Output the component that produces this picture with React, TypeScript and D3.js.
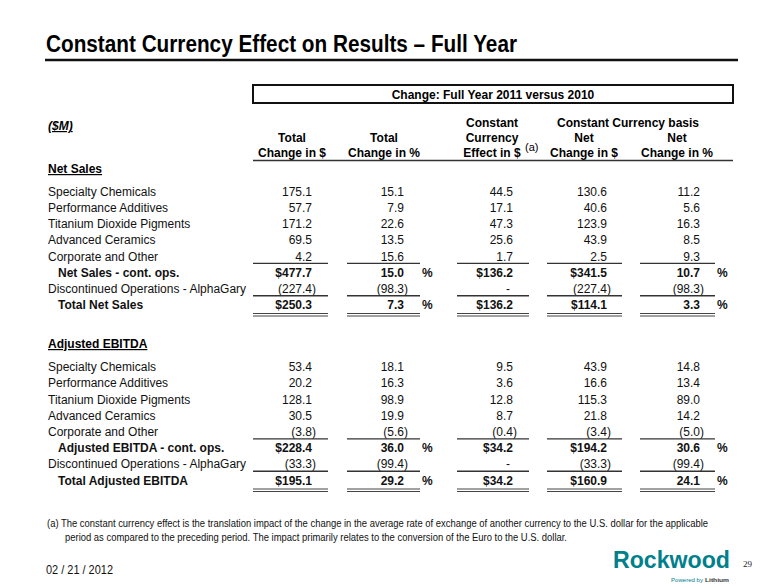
import React from "react";
import * as d3 from "d3";

// ---------- DATA ----------
const segments = [
  "Specialty Chemicals",
  "Performance Additives",
  "Titanium Dioxide Pigments",
  "Advanced Ceramics",
  "Corporate and Other",
];

// Net Sales (columns: Total Change $, Total Change %, CC Effect $, CC Net Change $, CC Net Change %)
const nsTotalChange = [175.1, 57.7, 171.2, 69.5, 4.2];
const nsTotalPct = [15.1, 7.9, 22.6, 13.5, 15.6];
const nsFxEffect = [44.5, 17.1, 47.3, 25.6, 1.7];
const nsCcChange = [130.6, 40.6, 123.9, 43.9, 2.5];
const nsCcPct = [11.2, 5.6, 16.3, 8.5, 9.3];
const nsContOps = [477.7, 15.0, 136.2, 341.5, 10.7];
const nsDiscontinued = [-227.4, -98.3, null, -227.4, -98.3];
const nsTotal = [250.3, 7.3, 136.2, 114.1, 3.3];

// Adjusted EBITDA
const ebTotalChange = [53.4, 20.2, 128.1, 30.5, -3.8];
const ebTotalPct = [18.1, 16.3, 98.9, 19.9, -5.6];
const ebFxEffect = [9.5, 3.6, 12.8, 8.7, -0.4];
const ebCcChange = [43.9, 16.6, 115.3, 21.8, -3.4];
const ebCcPct = [14.8, 13.4, 89.0, 14.2, -5.0];
const ebContOps = [228.4, 36.0, 34.2, 194.2, 30.6];
const ebDiscontinued = [-33.3, -99.4, null, -33.3, -99.4];
const ebTotal = [195.1, 29.2, 34.2, 160.9, 24.1];

const columnHeaders = [
  ["Total", "Change in $"],
  ["Total", "Change in %"],
  ["Constant", "Currency", "Effect in $"],
  ["Net", "Change in $"],
  ["Net", "Change in %"],
];
const dollarCols = [true, false, true, true, false];

// ---------- LAYOUT ----------
const W = 780;
const H = 585;
const FONT = "'Liberation Sans', Arial, Helvetica, sans-serif";
const NARROW = "'Liberation Sans Narrow', 'Arial Narrow', 'Liberation Sans', Arial, sans-serif";

const colIndex = [0, 1, 2, 3, 4];
const colRight = d3.scaleOrdinal<number, number>().domain(colIndex).range([312, 404, 513, 607, 700]);
const colCenter = d3.scaleOrdinal<number, number>().domain(colIndex).range([292, 384, 492, 584, 677]);
const lineL = d3.scaleOrdinal<number, number>().domain(colIndex).range([253, 347, 457, 547, 640]);
const lineR = d3.scaleOrdinal<number, number>().domain(colIndex).range([328, 420, 529, 622, 715]);

const fmt = d3.format(".1f");

type Row = { label: string; values: (number | null)[]; kind: "normal" | "sub" | "disc" | "total" };

function buildSection(cols: number[][], contOps: (number | null)[], disc: (number | null)[], total: (number | null)[], contLabel: string, discLabel: string, totalLabel: string): Row[] {
  const rows: Row[] = segments.map((s, i) => ({ label: s, values: cols.map((c) => c[i]), kind: "normal" as const }));
  rows.push({ label: contLabel, values: contOps, kind: "sub" });
  rows.push({ label: discLabel, values: disc, kind: "disc" });
  rows.push({ label: totalLabel, values: total, kind: "total" });
  return rows;
}

const section1 = buildSection(
  [nsTotalChange, nsTotalPct, nsFxEffect, nsCcChange, nsCcPct],
  nsContOps, nsDiscontinued, nsTotal,
  "Net Sales - cont. ops.", "Discontinued Operations - AlphaGary", "Total Net Sales"
);
const section2 = buildSection(
  [ebTotalChange, ebTotalPct, ebFxEffect, ebCcChange, ebCcPct],
  ebContOps, ebDiscontinued, ebTotal,
  "Adjusted EBITDA - cont. ops.", "Discontinued Operations - AlphaGary", "Total Adjusted EBITDA"
);

function Section({ title, titleY, rows, y }: { title: string; titleY: number; rows: Row[]; y: d3.ScaleLinear<number, number> }) {
  return (
    <g>
      <text x={48} y={titleY + 4} fontFamily={FONT} fontSize={12} fontWeight="bold" textDecoration="underline">{title}</text>
      {rows.map((r, i) => {
        const cy = y(i);
        const bold = r.kind === "sub" || r.kind === "total";
        return (
          <g key={i}>
            <text x={bold ? 58 : 48} y={cy + 4.2} fontFamily={FONT} fontSize={12} fontWeight={bold ? "bold" : "normal"} fill="#111">{r.label}</text>
            {r.values.map((v, c) => {
              let str: string;
              let x = colRight(c);
              if (v === null) { str = "-"; x = colRight(c) - 3; }
              else if (v < 0) { str = "(" + fmt(-v) + ")"; x = colRight(c) + 4; }
              else { str = (bold && dollarCols[c] ? "$" : "") + fmt(v); }
              return (
                <text key={c} x={x} y={cy + 4.2} textAnchor="end" fontFamily={FONT} fontSize={12} fontWeight={bold ? "bold" : "normal"} fill="#111">{str}</text>
              );
            })}
            {bold && [1, 4].map((c) => (
              <text key={"p" + c} x={lineR(c) + 2} y={cy + 4.2} fontFamily={FONT} fontSize={12} fontWeight="bold" fill="#111">%</text>
            ))}
            {(i === 4 || r.kind === "disc") && colIndex.map((c) => (
              <line key={"u" + c} x1={lineL(c)} x2={lineR(c)} y1={cy + 7} y2={cy + 7} stroke="#333" strokeWidth={1.4} />
            ))}
            {r.kind === "total" && colIndex.map((c) => (
              <g key={"d" + c}>
                <line x1={lineL(c)} x2={lineR(c)} y1={cy + 8.5} y2={cy + 8.5} stroke="#444" strokeWidth={1.2} />
                <line x1={lineL(c)} x2={lineR(c)} y1={cy + 11} y2={cy + 11} stroke="#444" strokeWidth={1.2} />
              </g>
            ))}
          </g>
        );
      })}
    </g>
  );
}

export default function App() {
  const y1 = d3.scaleLinear().domain([0, 7]).range([191.5, 305]);
  const y2 = d3.scaleLinear().domain([0, 7]).range([367, 480.5]);
  const headerY = d3.scaleLinear().domain([0, 2]).range([123, 153]);

  return (
    <svg width={W} height={H} style={{ position: "absolute", left: 0, top: 0, background: "#fff" }}>
      <rect x={0} y={0} width={W} height={H} fill="#fff" />
      {/* Title */}
      <text x={46} y={52} fontFamily={NARROW} fontSize={23} fontWeight="bold" textLength={471} lengthAdjust="spacingAndGlyphs" fill="#000">
        Constant Currency Effect on Results – Full Year
      </text>
      <line x1={45} x2={738} y1={60} y2={60} stroke="#111" strokeWidth={2.5} />

      {/* Header box */}
      <rect x={253} y={85} width={480} height={18} fill="#fff" stroke="#111" strokeWidth={2} />
      <text x={493} y={98.5} textAnchor="middle" fontFamily={FONT} fontSize={12} fontWeight="bold">Change: Full Year 2011 versus 2010</text>

      <text x={48} y={130} fontFamily={FONT} fontSize={12} fontWeight="bold" fontStyle="italic" textDecoration="underline">($M)</text>

      {columnHeaders.map((lines, c) =>
        lines.map((t, k) => (
          <text key={c + "-" + k} x={colCenter(c)} y={headerY(3 - lines.length + k) + 4.2} textAnchor="middle" fontFamily={FONT} fontSize={12} fontWeight="bold">{t}</text>
        ))
      )}
      <text x={525} y={151} fontFamily={FONT} fontSize={11}>(a)</text>
      <text x={628} y={headerY(0) + 4.2} textAnchor="middle" fontFamily={FONT} fontSize={12} fontWeight="bold">Constant Currency basis</text>
      <line x1={253} x2={733} y1={160.5} y2={160.5} stroke="#333" strokeWidth={1.4} />

      <Section title="Net Sales" titleY={169} rows={section1} y={y1} />
      <Section title="Adjusted EBITDA" titleY={344} rows={section2} y={y2} />

      {/* Footnote */}
      <text x={47} y={527} fontFamily={NARROW} fontSize={10} textLength={661} lengthAdjust="spacingAndGlyphs" fill="#111">
        (a) The constant currency effect is the translation impact of the change in the average rate of exchange of another currency to the U.S. dollar for the applicable
      </text>
      <text x={65} y={541} fontFamily={NARROW} fontSize={10} textLength={502} lengthAdjust="spacingAndGlyphs" fill="#111">
        period as compared to the preceding period. The impact primarily relates to the conversion of the Euro to the U.S. dollar.
      </text>

      {/* Footer */}
      <text x={46} y={574} fontFamily={NARROW} fontSize={12} textLength={67} lengthAdjust="spacingAndGlyphs" fill="#111">02 / 21 / 2012</text>
      <text x={613} y={568} fontFamily={NARROW} fontSize={24} fontWeight="bold" fill="#00808c" textLength={117} lengthAdjust="spacingAndGlyphs">Rockwood</text>
      <text x={671} y={582} fontFamily={FONT} fontSize={6} fill="#00808c" textLength={32} lengthAdjust="spacingAndGlyphs">Powered by</text>
      <text x={705} y={582} fontFamily={FONT} fontSize={6} fontWeight="bold" fill="#333" textLength={24} lengthAdjust="spacingAndGlyphs">Lithium</text>
      <text x={743} y={567} fontFamily="'Liberation Serif', 'DejaVu Serif', serif" fontSize={9} fill="#222">29</text>
    </svg>
  );
}
